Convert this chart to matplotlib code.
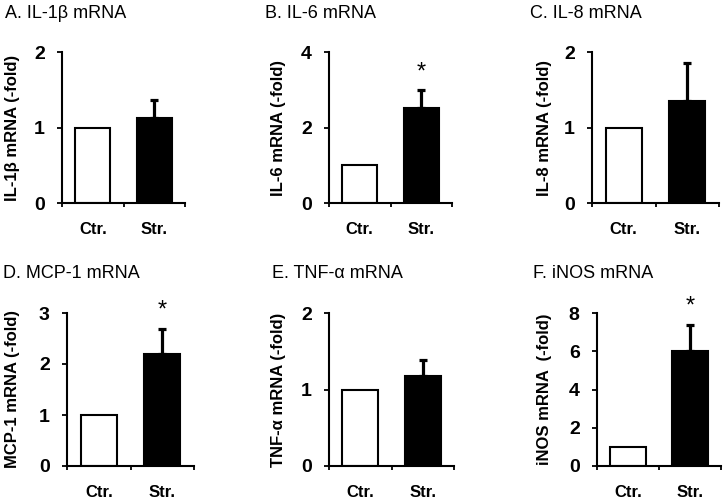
import matplotlib
matplotlib.use("Agg")
import matplotlib.pyplot as plt
import numpy as np

plt.rcParams['font.family'] = ['Liberation Sans', 'DejaVu Sans']

# data
titles = ["A. IL-1\u03b2 mRNA", "B. IL-6 mRNA", "C. IL-8 mRNA",
          "D. MCP-1 mRNA", "E. TNF-\u03b1 mRNA", "F. iNOS mRNA"]
ylabels = ["IL-1\u03b2 mRNA (-fold)", "IL-6 mRNA (-fold)", "IL-8 mRNA (-fold)",
           "MCP-1 mRNA (-fold)", "TNF-\u03b1 mRNA (-fold)", "iNOS mRNA  (-fold)"]
groups = ["Ctr.", "Str."]
ctr_vals = [1, 1, 1, 1, 1, 1]
str_vals = [1.12, 2.51, 1.35, 2.2, 1.18, 6.02]
str_err = [0.24, 0.48, 0.5, 0.49, 0.21, 1.36]
ymax = [2, 4, 2, 3, 2, 8]
ystep = [1, 2, 1, 1, 1, 2]
signif = [False, True, False, True, False, True]

W, H = 725, 499
fig = plt.figure(figsize=(W / 100, H / 100), dpi=100)

# axes boxes in pixels: left, right, top, bottom
boxes = [(62, 185, 52, 203), (329, 452, 52, 203), (592, 719, 52, 203),
         (67, 194, 313, 466), (329, 454, 313, 466), (597, 721, 313, 466)]
title_pos = [(5, 13), (265, 13), (530, 13), (3, 273), (272, 273), (533, 273)]
ylab_x = [13, 278, 545, 13, 278, 545]

for i in range(6):
    l, r, t, b = boxes[i]
    ax = fig.add_axes([l / W, 1 - b / H, (r - l) / W, (b - t) / H])
    ax.bar([0, 1], [ctr_vals[i], str_vals[i]], width=0.57,
           color=["white", "black"], edgecolor="black", linewidth=1.5, zorder=2)
    ax.errorbar([1], [str_vals[i]], yerr=[[0], [str_err[i]]], fmt="none",
                ecolor="black", elinewidth=2.3, capsize=3, capthick=2.3, zorder=1)
    if signif[i]:
        ax.annotate("*", (1, str_vals[i] + str_err[i]), xytext=(0, 5),
                    textcoords="offset points", ha="center", va="bottom",
                    fontsize=17, annotation_clip=False)
    ax.set_xlim(-0.5, 1.5)
    ax.set_ylim(0, ymax[i])
    ax.set_yticks(np.arange(0, ymax[i] + 0.01, ystep[i]))
    ax.set_xticks([-0.5, 0.5, 1.5])
    ax.set_xticklabels([])
    ax.set_xticks([0, 1], minor=True)
    ax.set_xticklabels(groups, minor=True, fontsize=12, fontweight="bold")
    ax.tick_params(axis="x", which="minor", length=0, pad=14)
    ax.tick_params(axis="x", which="major", length=3, width=1.3, direction="out")
    ax.tick_params(axis="y", length=3.5, width=1.3, direction="out", pad=9,
                   labelsize=14)
    for lab in ax.get_yticklabels():
        lab.set_fontweight("bold")
    for s in ["top", "right"]:
        ax.spines[s].set_visible(False)
    for s in ["left", "bottom"]:
        ax.spines[s].set_linewidth(1.5)

    fig.text(title_pos[i][0] / W, 1 - title_pos[i][1] / H, titles[i],
             ha="left", va="center", fontsize=13)
    fig.text(ylab_x[i] / W, 1 - ((t + b) / 2) / H, ylabels[i], rotation=90,
             ha="center", va="center", fontsize=12, fontweight="bold")

fig.savefig("out.png", dpi=100)
